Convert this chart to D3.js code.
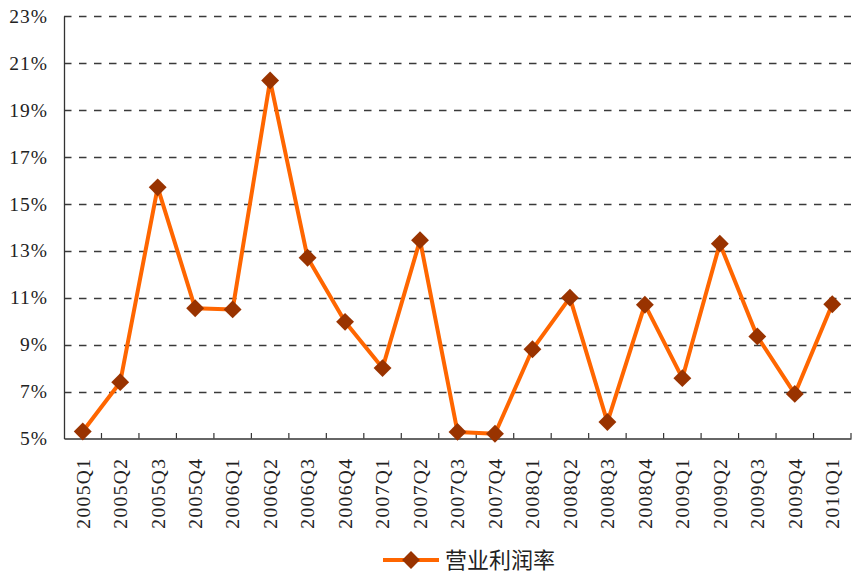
<!DOCTYPE html>
<html>
<head>
<meta charset="utf-8">
<script src="https://cdn.jsdelivr.net/npm/d3@7"></script>
<style>
  body { margin: 0; background: #fff; }
  svg { display: block; }
</style>
</head>
<body>
<div id="chart"></div>
<script>
// quarters and operating margin (%)
const quarters = ["2005Q1","2005Q2","2005Q3","2005Q4","2006Q1","2006Q2","2006Q3","2006Q4",
  "2007Q1","2007Q2","2007Q3","2007Q4","2008Q1","2008Q2","2008Q3","2008Q4",
  "2009Q1","2009Q2","2009Q3","2009Q4","2010Q1"];
const margins = [5.3, 7.4, 15.7, 10.55, 10.5, 20.25, 12.7, 9.97, 8.0, 13.45, 5.28, 5.2,
  8.8, 11.0, 5.7, 10.7, 7.57, 13.3, 9.35, 6.9, 10.72];
const yTicks = [5, 7, 9, 11, 13, 15, 17, 19, 21, 23];
const seriesName = "营业利润率";

const width = 861, height = 575;
const margin = {top: 16, right: 10, bottom: 136, left: 64};

const svg = d3.select("#chart")
  .append("svg")
  .attr("width", width)
  .attr("height", height);

// scales
const xScale = d3.scaleBand()
  .domain(quarters)
  .range([margin.left, 851]);

const yScale = d3.scaleLinear()
  .domain([5, 23])
  .range([438.5, margin.top]);

// dashed gridlines
svg.append("g")
  .selectAll("line")
  .data(yTicks.slice(1))
  .enter()
  .append("line")
    .attr("x1", margin.left)
    .attr("x2", 851)
    .attr("y1", d => Math.round(yScale(d)) + 0.5)
    .attr("y2", d => Math.round(yScale(d)) + 0.5)
    .attr("stroke", "#3a3a3a")
    .attr("stroke-width", 1.3)
    .attr("stroke-dasharray", "7.5,7.5");

// y axis
const yAxis = svg.append("g")
  .attr("transform", `translate(${margin.left},0)`)
  .call(d3.axisLeft(yScale).tickValues(yTicks).tickSize(0).tickPadding(16)
    .tickFormat(d => d + "%"));
yAxis.select(".domain").attr("stroke", "#333").attr("stroke-width", 1.3);
yAxis.selectAll("text")
  .attr("font-family", "'Liberation Serif', serif")
  .attr("font-size", "19.5px")
  .attr("letter-spacing", "1px")
  .attr("fill", "#222");

// x axis, ticks pointing up between categories
const xAxis = svg.append("g")
  .attr("transform", `translate(0,${438.5})`)
  .call(d3.axisBottom(xScale).tickSize(0).tickPadding(0));
xAxis.select(".domain").attr("stroke", "#333").attr("stroke-width", 1.3);
xAxis.selectAll(".tick line").remove();
xAxis.selectAll("text")
  .attr("font-family", "'Liberation Serif', serif")
  .attr("font-size", "19.5px")
  .attr("letter-spacing", "1.4px")
  .attr("fill", "#222")
  .attr("text-anchor", "end")
  .attr("dy", "0.35em")
  .attr("transform", "translate(0,19) rotate(-90)");

svg.append("g")
  .selectAll("line")
  .data(quarters.slice(1).concat(["end"]))
  .enter()
  .append("line")
    .attr("x1", (d, i) => xScale(quarters[0]) + xScale.step() * (i + 1))
    .attr("x2", (d, i) => xScale(quarters[0]) + xScale.step() * (i + 1))
    .attr("y1", 438.5)
    .attr("y2", 433)
    .attr("stroke", "#333")
    .attr("stroke-width", 1.2);

// line
const cx = d => xScale(d) + xScale.bandwidth() / 2;
const line = d3.line()
  .x((d, i) => cx(quarters[i]))
  .y(d => yScale(d));

svg.append("path")
  .datum(margins)
  .attr("fill", "none")
  .attr("stroke", "#FF6600")
  .attr("stroke-width", 4)
  .attr("stroke-linejoin", "round")
  .attr("d", line);

// diamond markers
const diamond = d3.symbol().type(d3.symbolSquare).size(160);
svg.selectAll(".point")
  .data(margins)
  .enter()
  .append("path")
    .attr("class", "point")
    .attr("d", diamond)
    .attr("transform", (d, i) => `translate(${cx(quarters[i])},${yScale(d)}) rotate(45)`)
    .attr("fill", "#993300");

// legend
const legend = svg.append("g").attr("transform", "translate(383,560)");
legend.append("line")
  .attr("x1", 0).attr("x2", 56)
  .attr("stroke", "#FF6600")
  .attr("stroke-width", 4);
legend.append("path")
  .attr("d", diamond)
  .attr("transform", "translate(28,0) rotate(45)")
  .attr("fill", "#993300");
legend.append("text")
  .attr("x", 62)
  .attr("dy", "0.36em")
  .attr("font-family", "'Noto Sans CJK SC', sans-serif")
  .attr("font-size", "22px")
  .attr("fill", "#222")
  .text(seriesName);
</script>
</body>
</html>
